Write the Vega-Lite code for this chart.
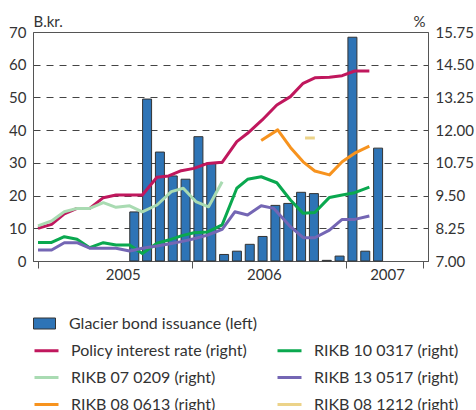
{
  "$schema": "https://vega.github.io/schema/vega-lite/v6.json",
  "width": 395,
  "height": 229,
  "autosize": "none",
  "padding": {"left": 33, "top": 32, "right": 48, "bottom": 149},
  "config": {
    "font": "Lato",
    "view": {"stroke": "#555", "strokeWidth": 1},
    "axis": {"labelFontSize": 15, "labelColor": "#333", "titleFontSize": 15, "titleFontWeight": "normal", "titleColor": "#333", "domainColor": "#555", "tickColor": "#555", "gridColor": "#444", "gridDash": [7, 6]},
    "legend": {"labelFontSize": 16, "labelColor": "#333", "labelFont": "Lato", "labelLimit": 0}
  },
  "datasets": {
    "bars": [
      {"series": "Glacier bond issuance (left)", "month": 7.5, "value": 15},
      {"series": "Glacier bond issuance (left)", "month": 8.5, "value": 49.5},
      {"series": "Glacier bond issuance (left)", "month": 9.5, "value": 33.3},
      {"series": "Glacier bond issuance (left)", "month": 10.5, "value": 26},
      {"series": "Glacier bond issuance (left)", "month": 11.5, "value": 25},
      {"series": "Glacier bond issuance (left)", "month": 12.5, "value": 38},
      {"series": "Glacier bond issuance (left)", "month": 13.5, "value": 30},
      {"series": "Glacier bond issuance (left)", "month": 14.5, "value": 2},
      {"series": "Glacier bond issuance (left)", "month": 15.5, "value": 3},
      {"series": "Glacier bond issuance (left)", "month": 16.5, "value": 5.1},
      {"series": "Glacier bond issuance (left)", "month": 17.5, "value": 7.5},
      {"series": "Glacier bond issuance (left)", "month": 18.5, "value": 17},
      {"series": "Glacier bond issuance (left)", "month": 19.5, "value": 17.6},
      {"series": "Glacier bond issuance (left)", "month": 20.5, "value": 21},
      {"series": "Glacier bond issuance (left)", "month": 21.5, "value": 20.6},
      {"series": "Glacier bond issuance (left)", "month": 22.5, "value": 0.2},
      {"series": "Glacier bond issuance (left)", "month": 23.5, "value": 1.5},
      {"series": "Glacier bond issuance (left)", "month": 24.5, "value": 68.4},
      {"series": "Glacier bond issuance (left)", "month": 25.5, "value": 3},
      {"series": "Glacier bond issuance (left)", "month": 26.5, "value": 34.5}
    ],
    "lines": [
      {"series": "Policy interest rate (right)", "month": 0, "value": 8.25},
      {"series": "Policy interest rate (right)", "month": 1.06, "value": 8.40},
      {"series": "Policy interest rate (right)", "month": 2.05, "value": 8.80},
      {"series": "Policy interest rate (right)", "month": 3.04, "value": 9.01},
      {"series": "Policy interest rate (right)", "month": 4.03, "value": 9.01},
      {"series": "Policy interest rate (right)", "month": 5.09, "value": 9.42},
      {"series": "Policy interest rate (right)", "month": 6.08, "value": 9.52},
      {"series": "Policy interest rate (right)", "month": 7.14, "value": 9.52},
      {"series": "Policy interest rate (right)", "month": 8.13, "value": 9.52},
      {"series": "Policy interest rate (right)", "month": 9.27, "value": 10.20},
      {"series": "Policy interest rate (right)", "month": 10.18, "value": 10.25},
      {"series": "Policy interest rate (right)", "month": 11.16, "value": 10.45},
      {"series": "Policy interest rate (right)", "month": 12.15, "value": 10.54},
      {"series": "Policy interest rate (right)", "month": 13.22, "value": 10.73},
      {"series": "Policy interest rate (right)", "month": 14.35, "value": 10.77},
      {"series": "Policy interest rate (right)", "month": 15.49, "value": 11.56},
      {"series": "Policy interest rate (right)", "month": 16.33, "value": 11.88},
      {"series": "Policy interest rate (right)", "month": 17.47, "value": 12.39},
      {"series": "Policy interest rate (right)", "month": 18.61, "value": 12.96},
      {"series": "Policy interest rate (right)", "month": 19.67, "value": 13.28},
      {"series": "Policy interest rate (right)", "month": 20.66, "value": 13.79},
      {"series": "Policy interest rate (right)", "month": 21.57, "value": 14.00},
      {"series": "Policy interest rate (right)", "month": 22.71, "value": 14.02},
      {"series": "Policy interest rate (right)", "month": 23.70, "value": 14.08},
      {"series": "Policy interest rate (right)", "month": 24.68, "value": 14.26},
      {"series": "Policy interest rate (right)", "month": 25.82, "value": 14.26},

      {"series": "RIKB 07 0209 (right)", "month": 0, "value": 8.34},
      {"series": "RIKB 07 0209 (right)", "month": 1.06, "value": 8.53},
      {"series": "RIKB 07 0209 (right)", "month": 2.05, "value": 8.88},
      {"series": "RIKB 07 0209 (right)", "month": 3.04, "value": 9.01},
      {"series": "RIKB 07 0209 (right)", "month": 4.03, "value": 9.01},
      {"series": "RIKB 07 0209 (right)", "month": 5.09, "value": 9.23},
      {"series": "RIKB 07 0209 (right)", "month": 6.08, "value": 9.05},
      {"series": "RIKB 07 0209 (right)", "month": 7.14, "value": 9.11},
      {"series": "RIKB 07 0209 (right)", "month": 8.13, "value": 8.88},
      {"series": "RIKB 07 0209 (right)", "month": 9.27, "value": 9.14},
      {"series": "RIKB 07 0209 (right)", "month": 10.39, "value": 9.65},
      {"series": "RIKB 07 0209 (right)", "month": 11.32, "value": 9.78},
      {"series": "RIKB 07 0209 (right)", "month": 12.30, "value": 9.27},
      {"series": "RIKB 07 0209 (right)", "month": 13.29, "value": 9.07},
      {"series": "RIKB 07 0209 (right)", "month": 14.35, "value": 10.03},

      {"series": "RIKB 10 0317 (right)", "month": 0, "value": 7.71},
      {"series": "RIKB 10 0317 (right)", "month": 1.06, "value": 7.71},
      {"series": "RIKB 10 0317 (right)", "month": 2.05, "value": 7.93},
      {"series": "RIKB 10 0317 (right)", "month": 3.04, "value": 7.83},
      {"series": "RIKB 10 0317 (right)", "month": 4.03, "value": 7.51},
      {"series": "RIKB 10 0317 (right)", "month": 5.09, "value": 7.70},
      {"series": "RIKB 10 0317 (right)", "month": 6.08, "value": 7.61},
      {"series": "RIKB 10 0317 (right)", "month": 7.14, "value": 7.61},
      {"series": "RIKB 10 0317 (right)", "month": 8.13, "value": 7.29},
      {"series": "RIKB 10 0317 (right)", "month": 9.27, "value": 7.68},
      {"series": "RIKB 10 0317 (right)", "month": 10.18, "value": 7.80},
      {"series": "RIKB 10 0317 (right)", "month": 11.16, "value": 7.96},
      {"series": "RIKB 10 0317 (right)", "month": 12.15, "value": 8.08},
      {"series": "RIKB 10 0317 (right)", "month": 13.22, "value": 8.11},
      {"series": "RIKB 10 0317 (right)", "month": 14.35, "value": 8.38},
      {"series": "RIKB 10 0317 (right)", "month": 15.49, "value": 9.78},
      {"series": "RIKB 10 0317 (right)", "month": 16.33, "value": 10.12},
      {"series": "RIKB 10 0317 (right)", "month": 17.39, "value": 10.22},
      {"series": "RIKB 10 0317 (right)", "month": 18.61, "value": 9.99},
      {"series": "RIKB 10 0317 (right)", "month": 19.67, "value": 9.33},
      {"series": "RIKB 10 0317 (right)", "month": 20.66, "value": 8.82},
      {"series": "RIKB 10 0317 (right)", "month": 21.57, "value": 8.85},
      {"series": "RIKB 10 0317 (right)", "month": 22.71, "value": 9.43},
      {"series": "RIKB 10 0317 (right)", "month": 23.70, "value": 9.52},
      {"series": "RIKB 10 0317 (right)", "month": 24.68, "value": 9.61},
      {"series": "RIKB 10 0317 (right)", "month": 25.82, "value": 9.82},

      {"series": "RIKB 13 0517 (right)", "month": 0, "value": 7.42},
      {"series": "RIKB 13 0517 (right)", "month": 1.06, "value": 7.42},
      {"series": "RIKB 13 0517 (right)", "month": 2.05, "value": 7.70},
      {"series": "RIKB 13 0517 (right)", "month": 3.04, "value": 7.70},
      {"series": "RIKB 13 0517 (right)", "month": 4.03, "value": 7.49},
      {"series": "RIKB 13 0517 (right)", "month": 5.09, "value": 7.49},
      {"series": "RIKB 13 0517 (right)", "month": 6.08, "value": 7.49},
      {"series": "RIKB 13 0517 (right)", "month": 7.14, "value": 7.38},
      {"series": "RIKB 13 0517 (right)", "month": 8.13, "value": 7.49},
      {"series": "RIKB 13 0517 (right)", "month": 9.27, "value": 7.57},
      {"series": "RIKB 13 0517 (right)", "month": 10.18, "value": 7.65},
      {"series": "RIKB 13 0517 (right)", "month": 11.16, "value": 7.74},
      {"series": "RIKB 13 0517 (right)", "month": 12.15, "value": 7.85},
      {"series": "RIKB 13 0517 (right)", "month": 13.22, "value": 7.99},
      {"series": "RIKB 13 0517 (right)", "month": 14.35, "value": 8.21},
      {"series": "RIKB 13 0517 (right)", "month": 15.34, "value": 8.88},
      {"series": "RIKB 13 0517 (right)", "month": 16.33, "value": 8.76},
      {"series": "RIKB 13 0517 (right)", "month": 17.39, "value": 9.11},
      {"series": "RIKB 13 0517 (right)", "month": 18.38, "value": 9.01},
      {"series": "RIKB 13 0517 (right)", "month": 19.67, "value": 8.31},
      {"series": "RIKB 13 0517 (right)", "month": 20.66, "value": 7.89},
      {"series": "RIKB 13 0517 (right)", "month": 21.57, "value": 7.89},
      {"series": "RIKB 13 0517 (right)", "month": 22.71, "value": 8.18},
      {"series": "RIKB 13 0517 (right)", "month": 23.70, "value": 8.59},
      {"series": "RIKB 13 0517 (right)", "month": 24.68, "value": 8.59},
      {"series": "RIKB 13 0517 (right)", "month": 25.82, "value": 8.72},

      {"series": "RIKB 08 0613 (right)", "month": 17.39, "value": 11.60},
      {"series": "RIKB 08 0613 (right)", "month": 18.68, "value": 12.01},
      {"series": "RIKB 08 0613 (right)", "month": 19.67, "value": 11.34},
      {"series": "RIKB 08 0613 (right)", "month": 20.66, "value": 10.79},
      {"series": "RIKB 08 0613 (right)", "month": 21.57, "value": 10.44},
      {"series": "RIKB 08 0613 (right)", "month": 22.71, "value": 10.29},
      {"series": "RIKB 08 0613 (right)", "month": 23.70, "value": 10.79},
      {"series": "RIKB 08 0613 (right)", "month": 24.68, "value": 11.12},
      {"series": "RIKB 08 0613 (right)", "month": 25.82, "value": 11.39},

      {"series": "RIKB 08 1212 (right)", "month": 20.81, "value": 11.70},
      {"series": "RIKB 08 1212 (right)", "month": 21.57, "value": 11.70}
    ]
  },
  "layer": [
    {
      "data": {"name": "bars"},
      "mark": {"type": "bar", "size": 9, "stroke": "#333", "strokeWidth": 1},
      "encoding": {
        "x": {
          "field": "month", "type": "quantitative",
          "scale": {"domain": [0, 30], "nice": false, "zero": false},
          "axis": {
            "orient": "bottom", "title": null, "grid": false,
            "values": [0, 6.6, 12, 17.6, 24, 27.2, 30],
            "labelExpr": "datum.value == 6.6 ? '2005' : datum.value == 17.6 ? '2006' : datum.value == 27.2 ? '2007' : ''",
            "tickOpacity": {"condition": {"test": "datum.value == 0 || datum.value == 12 || datum.value == 24 || datum.value == 30", "value": 1}, "value": 0},
            "tickSize": 7, "labelPadding": -1, "labelOverlap": false, "labelFlush": false, "labelBound": false
          }
        },
        "y": {
          "field": "value", "type": "quantitative",
          "scale": {"domain": [0, 70], "nice": false},
          "axis": {
            "orient": "left", "title": "B.kr.", "titleAngle": 0, "titleX": 0, "titleY": -6,
            "titleAlign": "left", "titleBaseline": "alphabetic",
            "values": [0, 10, 20, 30, 40, 50, 60, 70],
            "ticks": false, "labelPadding": 7, "grid": true,
            "gridOpacity": {"condition": {"test": "datum.value == 0 || datum.value == 70", "value": 0}, "value": 1}
          }
        },
        "fill": {
          "field": "series", "type": "nominal",
          "scale": {"range": ["#2e74b6"]},
          "legend": {
            "orient": "none", "legendX": 0, "legendY": 280, "title": null,
            "symbolType": "M-1,-0.5H1V0.5H-1Z", "symbolSize": 484,
            "symbolStrokeColor": "#333", "symbolStrokeWidth": 1, "symbolOpacity": 1, "labelOffset": 13
          }
        }
      }
    },
    {
      "data": {"name": "lines"},
      "mark": {"type": "line", "strokeWidth": 3, "strokeJoin": "round"},
      "encoding": {
        "x": {"field": "month", "type": "quantitative"},
        "y": {
          "field": "value", "type": "quantitative",
          "scale": {"domain": [7, 15.75], "nice": false, "zero": false},
          "axis": {
            "orient": "right", "title": "%", "titleAngle": 0, "titleX": -3, "titleY": -6,
            "titleAlign": "right", "titleBaseline": "alphabetic",
            "values": [7, 8.25, 9.5, 10.75, 12, 13.25, 14.5, 15.75], "format": ".2f",
            "ticks": false, "labelPadding": 7, "grid": false
          }
        },
        "stroke": {
          "field": "series", "type": "nominal",
          "scale": {
            "domain": ["Policy interest rate (right)", "RIKB 07 0209 (right)", "RIKB 08 0613 (right)", "RIKB 10 0317 (right)", "RIKB 13 0517 (right)", "RIKB 08 1212 (right)"],
            "range": ["#c0175d", "#a9dbb2", "#f7931e", "#0aa84f", "#7466b4", "#ecd389"]
          },
          "legend": {
            "orient": "none", "legendX": 0, "legendY": 305, "title": null, "columns": 2,
            "symbolType": "stroke", "symbolSize": 576, "symbolStrokeWidth": 3,
            "labelOffset": 11, "columnPadding": 23, "rowPadding": 5
          }
        }
      }
    }
  ],
  "resolve": {"scale": {"y": "independent"}}
}
